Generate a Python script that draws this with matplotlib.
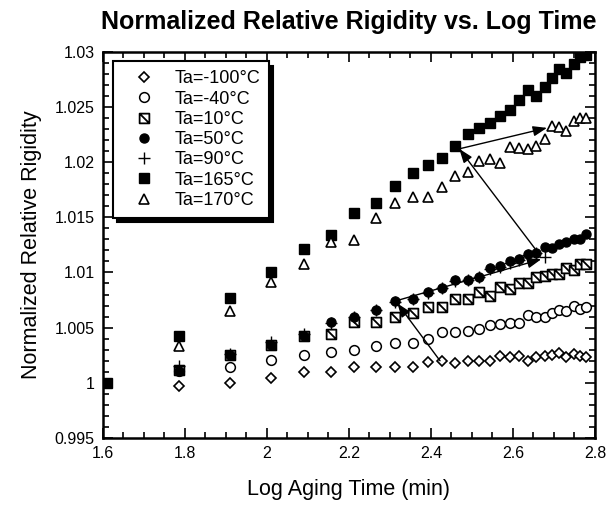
import matplotlib
matplotlib.use('Agg')
import matplotlib.pyplot as plt
from matplotlib.path import Path
from matplotlib.ticker import MultipleLocator

plt.rcParams['font.family'] = ['Liberation Sans', 'DejaVu Sans']

# log aging time (min) at which the samples were measured
log_time = [1.61, 1.785, 1.91, 2.01, 2.09, 2.155, 2.213, 2.265, 2.312, 2.355,
            2.392, 2.427, 2.459, 2.49, 2.517, 2.544, 2.569, 2.592, 2.615, 2.636,
            2.657, 2.677, 2.695, 2.712, 2.73, 2.748, 2.764, 2.777]

# normalized relative rigidity, one list per aging temperature
ta_m100 = [0.9997, 1.0000, 1.0004, 1.0010, 1.0010, 1.0014, 1.0014, 1.0014, 1.0014, 1.0019,
           1.0020, 1.0018, 1.0020, 1.0020, 1.0020, 1.0024, 1.0023, 1.0024, 1.0020, 1.0023,
           1.0024, 1.0025, 1.0027, 1.0023, 1.0026, 1.0024, 1.0023]
ta_m40 = [1.0011, 1.0014, 1.0021, 1.0025, 1.0028, 1.0030, 1.0033, 1.0036, 1.0036, 1.0040,
          1.0046, 1.0046, 1.0047, 1.0049, 1.0052, 1.0053, 1.0054, 1.0054, 1.0061, 1.0060,
          1.0060, 1.0063, 1.0066, 1.0065, 1.0070, 1.0067, 1.0069]
ta_10 = [1.0012, 1.0025, 1.0034, 1.0042, 1.0044, 1.0055, 1.0055, 1.0060, 1.0063, 1.0069,
         1.0069, 1.0076, 1.0076, 1.0082, 1.0079, 1.0087, 1.0085, 1.0090, 1.0090, 1.0096,
         1.0097, 1.0099, 1.0099, 1.0104, 1.0102, 1.0108, 1.0108]
ta_50 = [1.0011, 1.0025, 1.0034, 1.0042, 1.0055, 1.0060, 1.0066, 1.0074, 1.0076, 1.0082,
         1.0086, 1.0093, 1.0093, 1.0096, 1.0104, 1.0106, 1.0110, 1.0112, 1.0117, 1.0118,
         1.0123, 1.0122, 1.0126, 1.0128, 1.0130, 1.0130, 1.0135]
ta_90 = [1.0015, 1.0026, 1.0037, 1.0044, 1.0054, 1.0060, 1.0066, 1.0073, 1.0076, 1.0081,
         1.0086, 1.0092, 1.0093, 1.0096, 1.0103, 1.0105, 1.0109, 1.0111, 1.0116, 1.0118,
         1.0114]
ta_165 = [1.0000, 1.0042, 1.0077, 1.0100, 1.0121, 1.0134, 1.0154, 1.0163, 1.0178, 1.0190,
          1.0197, 1.0204, 1.0215, 1.0225, 1.0231, 1.0235, 1.0242, 1.0247, 1.0256, 1.0265,
          1.0260, 1.0268, 1.0276, 1.0284, 1.0281, 1.0289, 1.0295, 1.0297]
ta_170 = [1.0033, 1.0065, 1.0091, 1.0108, 1.0128, 1.0129, 1.0149, 1.0163, 1.0168, 1.0168,
          1.0177, 1.0187, 1.0191, 1.0201, 1.0203, 1.0199, 1.0214, 1.0213, 1.0212, 1.0215,
          1.0221, 1.0233, 1.0232, 1.0228, 1.0237, 1.0240, 1.0240]

# square with a diagonal stroke (hatched square)
hatch_sq = Path([(-1, -1), (1, -1), (1, 1), (-1, 1), (-1, -1), (-1, 1), (1, -1)],
                [Path.MOVETO, Path.LINETO, Path.LINETO, Path.LINETO, Path.CLOSEPOLY,
                 Path.MOVETO, Path.LINETO])

fig = plt.figure(figsize=(6.08, 5.08), dpi=100)
ax = fig.add_axes([0.1694, 0.1378, 0.8092, 0.7604])

t = log_time[1:]
ax.plot(t, ta_m100, ls='none', marker='D', ms=5, mfc='white', mec='black', mew=1.2,
        label='Ta=-100°C')
ax.plot(t, ta_m40, ls='none', marker='o', ms=7, mfc='white', mec='black', mew=1.1,
        label='Ta=-40°C')
ax.plot(t, ta_10, ls='none', marker=hatch_sq, ms=7, mfc='white', mec='black', mew=1.3,
        label='Ta=10°C')
ax.plot(t[:len(ta_90)], ta_90, ls='none', marker='+', ms=8, mec='black', mew=1.0,
        label='Ta=90°C', zorder=2)
ax.plot(t, ta_50, ls='none', marker='o', ms=6.5, mfc='black', mec='black',
        label='Ta=50°C', zorder=2.5)
ax.plot(log_time, ta_165, ls='none', marker='s', ms=6.5, mfc='black', mec='black',
        label='Ta=165°C')
ax.plot(t, ta_170, ls='none', marker='^', ms=7, mfc='white', mec='black', mew=1.2,
        label='Ta=170°C')

arrow = dict(arrowstyle='-|>,head_length=0.6,head_width=0.22', color='black', lw=1.0,
             mutation_scale=14, shrinkA=0, shrinkB=0)
ax.annotate('', xy=(2.669, 1.0112), xytext=(2.312, 1.0074), arrowprops=arrow)
ax.annotate('', xy=(2.469, 1.0212), xytext=(2.663, 1.0117), arrowprops=arrow)
ax.annotate('', xy=(2.683, 1.0231), xytext=(2.469, 1.0212), arrowprops=arrow)
ax.annotate('', xy=(2.318, 1.0072), xytext=(2.422, 1.0020), arrowprops=arrow)

ax.set_xlim(1.6, 2.8)
ax.set_ylim(0.995, 1.03)
ax.xaxis.set_minor_locator(MultipleLocator(0.05))
ax.yaxis.set_minor_locator(MultipleLocator(0.001))
ax.set_xticks([1.6, 1.8, 2.0, 2.2, 2.4, 2.6, 2.8], ['1.6', '1.8', '2', '2.2', '2.4', '2.6', '2.8'])
ax.set_yticks([0.995, 1.0, 1.005, 1.01, 1.015, 1.02, 1.025, 1.03],
              ['0.995', '1', '1.005', '1.01', '1.015', '1.02', '1.025', '1.03'])
ax.tick_params(which='both', direction='in', top=True, right=True, labelsize=11.5, width=1.2)
ax.tick_params(which='major', length=7, pad=6)
ax.tick_params(which='minor', length=4)
for s in ax.spines.values():
    s.set_linewidth(1.8)

ax.set_title('Normalized Relative Rigidity vs. Log Time', fontsize=18, fontweight='bold', pad=16)
ax.set_xlabel('Log Aging Time (min)', fontsize=15.5, labelpad=13)
ax.set_ylabel('Normalized Relative Rigidity', fontsize=15.5, labelpad=9)

handles, labels = ax.get_legend_handles_labels()
order = ['Ta=-100°C', 'Ta=-40°C', 'Ta=10°C', 'Ta=50°C', 'Ta=90°C', 'Ta=165°C', 'Ta=170°C']
hd = dict(zip(labels, handles))
leg = ax.legend([hd[k] for k in order], order, loc='upper left', bbox_to_anchor=(0.02, 0.975),
                fontsize=13, frameon=True, fancybox=False, handlelength=2.5,
                handletextpad=0.4, labelspacing=0.18, borderpad=0.5, borderaxespad=0,
                shadow={'ox': 3, 'oy': -3, 'color': 'black', 'alpha': 1})
leg.get_frame().set_edgecolor('black')
leg.get_frame().set_linewidth(1.5)

fig.savefig('out.png', dpi=100)
